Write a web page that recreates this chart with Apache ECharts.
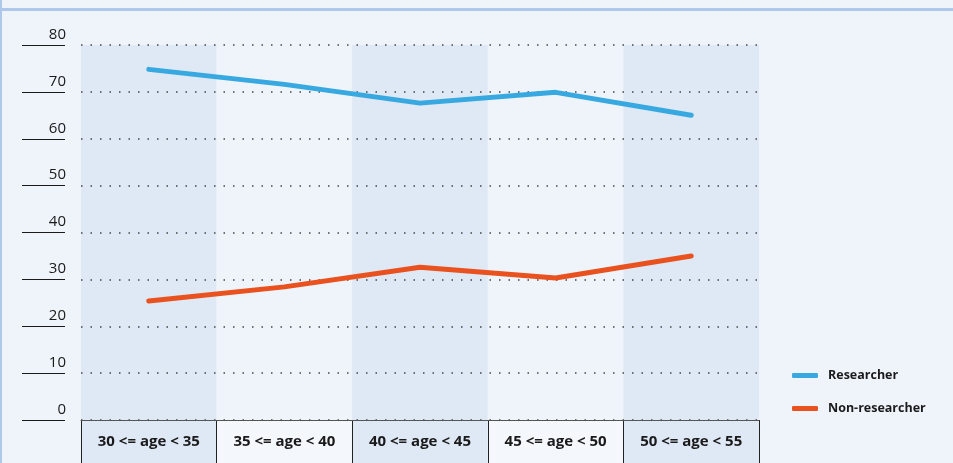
<!DOCTYPE html>
<html>
<head>
<meta charset="utf-8">
<script src="https://cdn.jsdelivr.net/npm/echarts@6/dist/echarts.min.js"></script>
<style>
html,body{margin:0;padding:0;background:#eff4fb;}
#c{width:953px;height:463px;}
</style>
</head>
<body>
<div id="c"></div>
<script>
const categories = ['30 <= age < 35','35 <= age < 40','40 <= age < 45','45 <= age < 50','50 <= age < 55'];
const researcher = [74.8, 71.6, 67.6, 69.9, 65.0];
const nonResearcher = [25.4, 28.4, 32.6, 30.3, 35.0];
const yTicks = [0,10,20,30,40,50,60,70,80];

const chart = echarts.init(document.getElementById('c'));
const FONT = '"Open Sans"';
chart.setOption({
  backgroundColor: '#eff4fb',
  animation: false,
  graphic: [
    {type:'rect', shape:{x:0,y:0,width:2,height:463}, style:{fill:'#aec8ec'}, silent:true},
    {type:'rect', shape:{x:0,y:8,width:953,height:3}, style:{fill:'#aec8ec'}, silent:true}
  ],
  legend: {
    orient: 'vertical',
    left: 787,
    top: 364,
    itemGap: 20,
    itemWidth: 26,
    itemHeight: 5,
    icon: 'roundRect',
    textStyle: {fontFamily: FONT, fontWeight: 'bold', fontSize: 12.5, color: '#1a1a1a', padding:[0,0,0,5]},
    data: ['Researcher','Non-researcher']
  },
  grid: [
    {left: 81, right: 194, top: 45, bottom: 43},
    {left: 81, right: 194, top: 420, bottom: 0}
  ],
  xAxis: [
    {
      type: 'category', gridIndex: 0, data: categories, boundaryGap: true, z: 0,
      axisLine: {show: false}, axisTick: {show: false}, axisLabel: {show: false},
      splitArea: {show: true, areaStyle: {color: ['#dfe8f5', '#eff4fb']}},
      splitLine: {show: false}
    },
    {
      type: 'category', gridIndex: 1, data: categories, boundaryGap: true, position: 'top', z: 4,
      axisLine: {show: true, onZero: false, lineStyle: {color: '#555', width: 1}},
      axisTick: {show: false},
      axisLabel: {inside: true, margin: 14, fontFamily: FONT, fontWeight: 'bold', fontSize: 15, color: '#1a1a1a', interval: 0},
      splitArea: {show: true, areaStyle: {color: ['#dfe8f5', '#f4f7fc']}},
      splitLine: {show: true, interval: 0, lineStyle: {color: '#222', width: 1}}
    }
  ],
  yAxis: [
    {
      type: 'value', gridIndex: 0, min: 0, max: 80, interval: 10, offset: 16, z: 3,
      axisLine: {show: false},
      axisTick: {show: true, length: 43, lineStyle: {color: '#1a1a1a', width: 1}},
      axisLabel: {
        margin: -1, verticalAlign: 'bottom', align: 'right', padding: [0, 0, 3, 0],
        fontFamily: FONT, fontSize: 15, color: '#1a1a1a',
        formatter: v => yTicks.includes(v) ? String(v) : ''
      },
      splitLine: {show: true, lineStyle: {color: '#444', type: [1.5, 8], width: 1.5}}
    },
    {
      type: 'value', gridIndex: 1, min: 0, max: 1, show: false, splitLine: {show: false}
    }
  ],
  series: [
    {
      name: 'Researcher', type: 'line', xAxisIndex: 0, yAxisIndex: 0, data: researcher, z: 5,
      showSymbol: false, symbol: 'none', color: '#38a9e0',
      lineStyle: {width: 5, cap: 'round', join: 'round', color: '#38a9e0'}
    },
    {
      name: 'Non-researcher', type: 'line', xAxisIndex: 0, yAxisIndex: 0, data: nonResearcher, z: 5,
      showSymbol: false, symbol: 'none', color: '#e9511f',
      lineStyle: {width: 5, cap: 'round', join: 'round', color: '#e9511f'}
    }
  ]
});
</script>
</body>
</html>
